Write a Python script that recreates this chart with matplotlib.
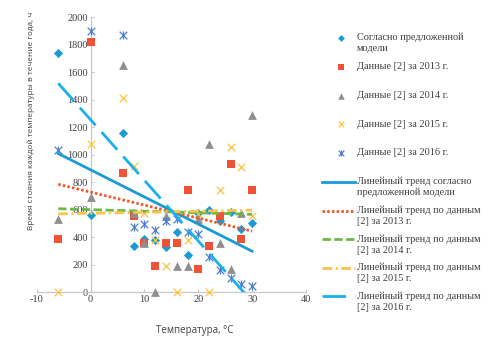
import numpy as np
import matplotlib
matplotlib.use('Agg')
import matplotlib.pyplot as plt

plt.rcParams['axes.unicode_minus'] = False
plt.rcParams['lines.scale_dashes'] = False

temps = [-6, 0, 6, 8, 10, 12, 14, 16, 18, 20, 22, 24, 26, 28, 30]

model = [1740, 560, 1155, 335, 385, 380, 330, 440, 270, 575, 600, 520, 585, 460, 505]
d2013 = [385, 1820, 865, 550, 360, 190, 360, 360, 745, 165, 335, 550, 935, 385, 745]
d2014 = [530, 695, 1650, 575, 360, 0, 550, 190, 190, 530, 1075, 360, 165, 575, 1290]
d2015 = [0, 1080, 1415, 915, 575, 380, 190, 0, 380, 570, 0, 745, 1055, 910, 555]
d2016 = [1035, 1900, 1870, 470, 495, 450, 520, 530, 435, 425, 255, 160, 100, 60, 45]

labels_pts = ['Согласно предложенной\nмодели', 'Данные [2] за 2013 г.', 'Данные [2] за 2014 г.',
              'Данные [2] за 2015 г.', 'Данные [2] за 2016 г.']
labels_trend = ['Линейный тренд согласно\nпредложенной модели',
                'Линейный тренд по данным\n[2] за 2013 г.',
                'Линейный тренд по данным\n[2] за 2014 г.',
                'Линейный тренд по данным\n[2] за 2015 г.',
                'Линейный тренд по данным\n[2] за 2016 г.']

serif = ['Liberation Serif', 'DejaVu Serif']
sans = ['Open Sans', 'DejaVu Sans']
txt_col = '#404040'

fig = plt.figure(figsize=(5, 3.47), dpi=100)
ax = fig.add_axes([0.0734, 0.1585, 0.5386, 0.7916])

pt_styles = [
    dict(marker='D', s=22, color='#1a9ad6', lw=0),
    dict(marker='s', s=40, color='#f05235', lw=0),
    dict(marker='^', s=40, color='#8f8f8f', lw=0),
    dict(marker='x', s=30, color='#ffc43d', lw=0.9),
    dict(marker='x', s=30, color='#4a7fd0', lw=0.9),
]
tr_styles = [
    dict(color='#1a9ad6', ls='-'),
    dict(color='#f0552a', dashes=(1.8, 1.6)),
    dict(color='#6cb845', dashes=(6, 2.5)),
    dict(color='#f8c44a', dashes=(7, 2.5, 1.5, 2.5)),
    dict(color='#1ab0ec', dashes=(17, 6.5)),
]

x = np.array(temps)
series = [model, d2013, d2014, d2015, d2016]
for ys, st in zip(series, pt_styles):
    ax.scatter(x, ys, clip_on=False, zorder=3, **st)
# asterisk = cross + vertical bar
ax.scatter(x, d2016, marker='|', s=30, color='#4a7fd0', lw=0.9, clip_on=False, zorder=3)

xs = np.linspace(x.min(), x.max(), 200)
for ys, st in zip(series, tr_styles):
    k, b = np.polyfit(x, ys, 1)
    ax.plot(xs, k * xs + b, lw=2.0, zorder=4, **st)

ax.set_xlim(-10, 40)
ax.set_ylim(0, 2000)
ax.set_xticks(range(-10, 41, 10))
ax.set_yticks(range(0, 2001, 200))
for s in ['top', 'right']:
    ax.spines[s].set_visible(False)
ax.spines['left'].set_position(('data', 0))
for s in ['left', 'bottom']:
    ax.spines[s].set_color('#c8c8c8')
    ax.spines[s].set_linewidth(0.9)
ax.tick_params(direction='in', length=2.5, color='#c8c8c8', labelsize=7.5, pad=2)
for lab in ax.get_xticklabels() + ax.get_yticklabels():
    lab.set_family(serif)
    lab.set_color(txt_col)

ax.set_xlabel('Температура, °C', family=sans, fontsize=7, color=txt_col)
ax.xaxis.set_label_coords(0.587, -0.12)
fig.text(0.062, 0.651, 'Время стояния каждой температуры в течение года, ч', rotation=90,
         family=sans, fontsize=5.9, color=txt_col, ha='center', va='center')

# legend drawn in pixel coordinates of the figure
lg = fig.add_axes([0, 0, 1, 1])
lg.set_xlim(0, 500)
lg.set_ylim(347, 0)
lg.axis('off')
rows = [37.7, 66.7, 95.7, 124.3, 152.7, 181.7, 210.7, 239, 267.7, 296]
labels = labels_pts + labels_trend
for i, y in enumerate(rows):
    if i < 5:
        st = dict(pt_styles[i])
        st['s'] = st['s'] * 0.55
        lg.scatter([340.5], [y], **st)
        if i == 4:
            lg.scatter([340.5], [y], marker='|', s=16, color='#4a7fd0', lw=0.9)
    else:
        lg.plot([322, 355], [y, y], lw=2.0, **tr_styles[i - 5])
    for j, line in enumerate(labels[i].split('\n')):
        lg.text(357, y + j * 11, line, family=serif, fontsize=7.4, color=txt_col,
                ha='left', va='center')

fig.savefig('out.png', dpi=100)
